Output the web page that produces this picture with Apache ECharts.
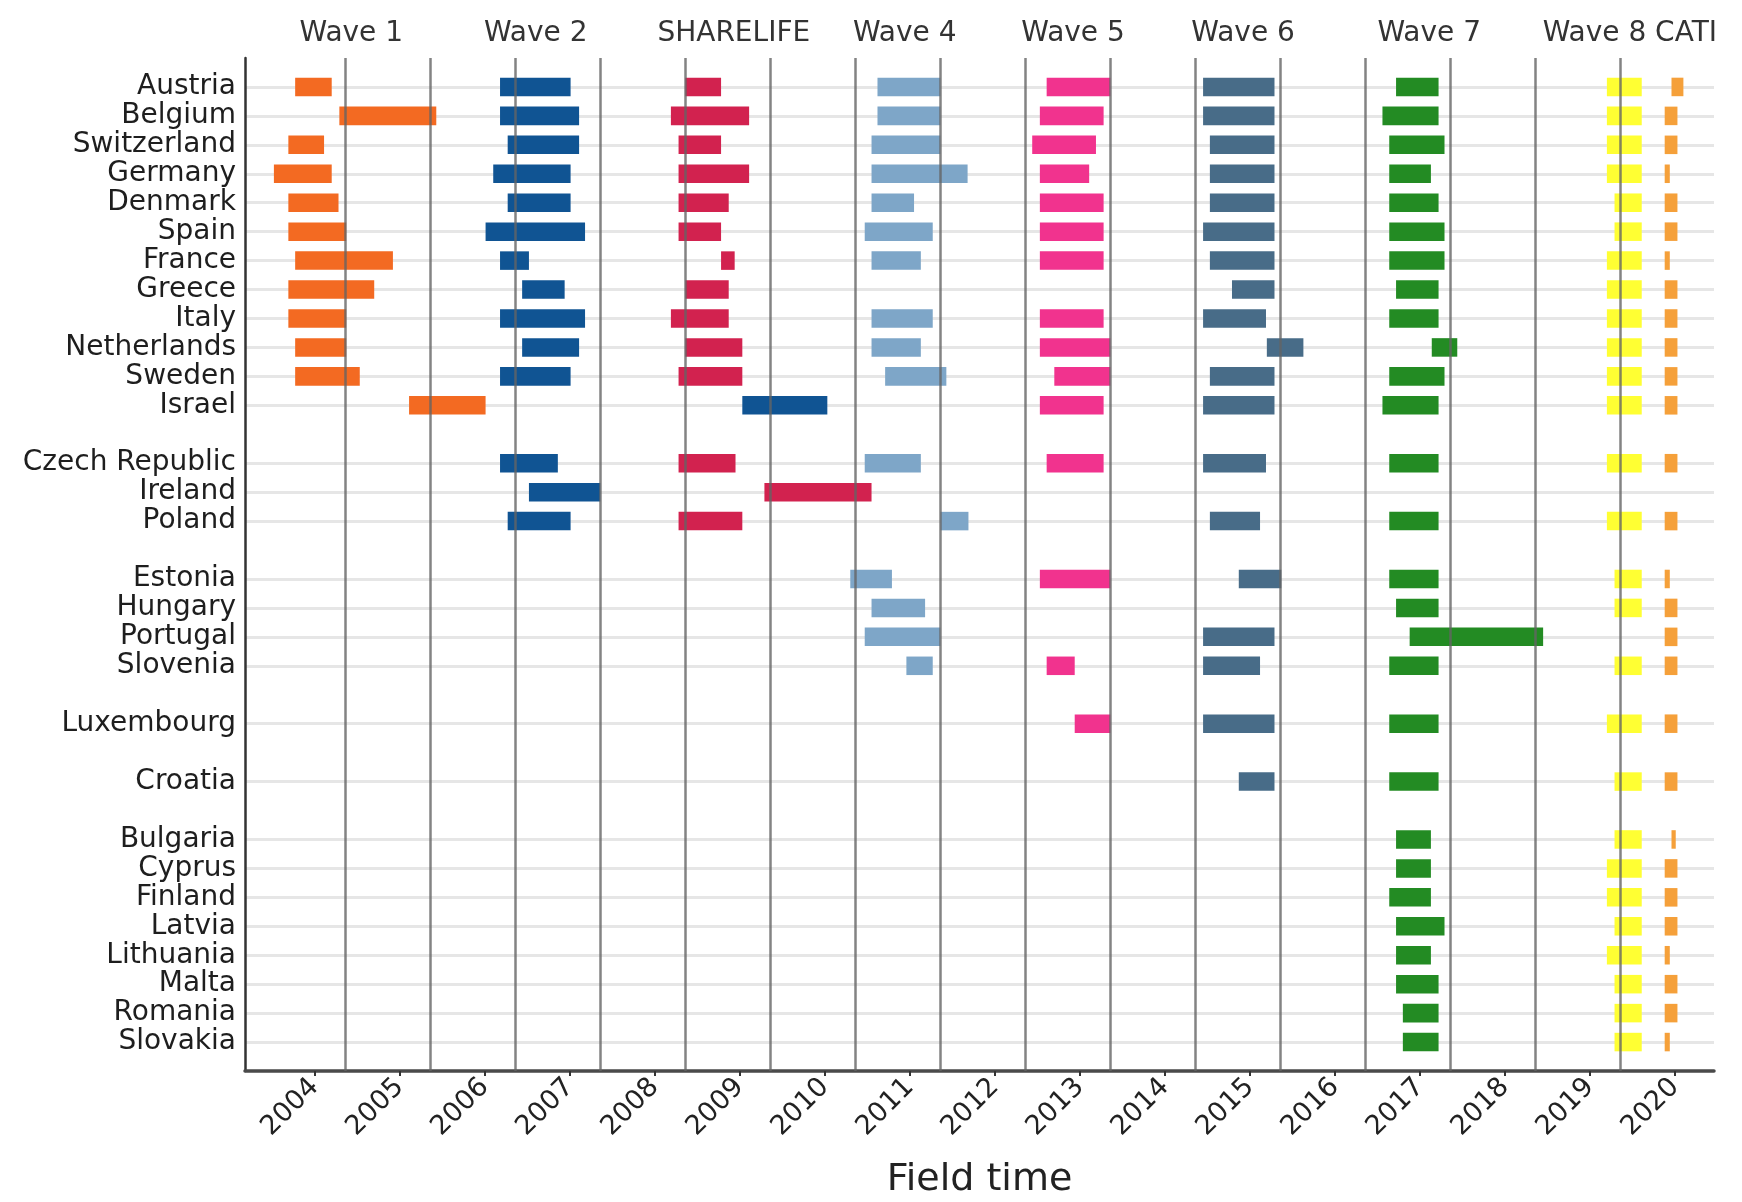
<!DOCTYPE html>
<html>
<head>
<meta charset="utf-8">
<script src="https://cdn.jsdelivr.net/npm/echarts@6/dist/echarts.min.js"></script>
<style>
  html, body { margin: 0; padding: 0; background: #fff; }
  #chart { width: 1742px; height: 1202px; }
</style>
</head>
<body>
<div id="chart"></div>
<script>
// ---- Rows (null = empty spacer row) ----
const countries = [
  null,
  'Austria', 'Belgium', 'Switzerland', 'Germany', 'Denmark', 'Spain', 'France',
  'Greece', 'Italy', 'Netherlands', 'Sweden', 'Israel',
  null,
  'Czech Republic', 'Ireland', 'Poland',
  null,
  'Estonia', 'Hungary', 'Portugal', 'Slovenia',
  null,
  'Luxembourg',
  null,
  'Croatia',
  null,
  'Bulgaria', 'Cyprus', 'Finland', 'Latvia', 'Lithuania', 'Malta', 'Romania', 'Slovakia',
  null
];

// ---- Tick labels ----
const yearLabels = [2004, 2005, 2006, 2007, 2008, 2009, 2010, 2011, 2012, 2013, 2014, 2015, 2016, 2017, 2018, 2019, 2020];
const yearLines = [2005, 2006, 2007, 2008, 2009, 2010, 2011, 2012, 2013, 2014, 2015, 2016, 2017, 2018, 2019, 2020];
const waveNames = ['Wave 1', 'Wave 2', 'SHARELIFE', 'Wave 4', 'Wave 5', 'Wave 6', 'Wave 7', 'Wave 8 CATI'];
const waveLabelPos = [2005.07, 2007.24, 2009.57, 2011.58, 2013.56, 2015.56, 2017.75, 2020.11];

// ---- Field time per wave: [country, start, end] (decimal years) ----
const wave1 = [
  ['Austria', 2004.41, 2004.84], ['Belgium', 2004.93, 2006.07], ['Switzerland', 2004.33, 2004.75],
  ['Germany', 2004.16, 2004.84], ['Denmark', 2004.33, 2004.92], ['Spain', 2004.33, 2005.01],
  ['France', 2004.41, 2005.56], ['Greece', 2004.33, 2005.34], ['Italy', 2004.33, 2005.01],
  ['Netherlands', 2004.41, 2005.01], ['Sweden', 2004.41, 2005.17], ['Israel', 2005.75, 2006.65]
];
const wave2 = [
  ['Austria', 2006.82, 2007.65], ['Belgium', 2006.82, 2007.75], ['Switzerland', 2006.91, 2007.75],
  ['Germany', 2006.74, 2007.65], ['Denmark', 2006.91, 2007.65], ['Spain', 2006.65, 2007.82],
  ['France', 2006.82, 2007.16], ['Greece', 2007.08, 2007.58], ['Italy', 2006.82, 2007.82],
  ['Netherlands', 2007.08, 2007.75], ['Sweden', 2006.82, 2007.65], ['Israel', 2009.67, 2010.67],
  ['Czech Republic', 2006.82, 2007.50], ['Ireland', 2007.16, 2008.00], ['Poland', 2006.91, 2007.65]
];
const sharelife = [
  ['Austria', 2009.00, 2009.42], ['Belgium', 2008.83, 2009.75], ['Switzerland', 2008.92, 2009.42],
  ['Germany', 2008.92, 2009.75], ['Denmark', 2008.92, 2009.51], ['Spain', 2008.92, 2009.42],
  ['France', 2009.42, 2009.58], ['Greece', 2009.00, 2009.51], ['Italy', 2008.83, 2009.51],
  ['Netherlands', 2009.00, 2009.67], ['Sweden', 2008.92, 2009.67], ['Czech Republic', 2008.92, 2009.59],
  ['Ireland', 2009.93, 2011.19], ['Poland', 2008.92, 2009.67]
];
const wave4 = [
  ['Austria', 2011.26, 2012.00], ['Belgium', 2011.26, 2012.00], ['Switzerland', 2011.19, 2012.00],
  ['Germany', 2011.19, 2012.32], ['Denmark', 2011.19, 2011.69], ['Spain', 2011.11, 2011.91],
  ['France', 2011.19, 2011.77], ['Italy', 2011.19, 2011.91], ['Netherlands', 2011.19, 2011.77],
  ['Sweden', 2011.35, 2012.07], ['Czech Republic', 2011.11, 2011.77], ['Poland', 2012.00, 2012.33],
  ['Estonia', 2010.94, 2011.43], ['Hungary', 2011.19, 2011.82], ['Portugal', 2011.11, 2012.00],
  ['Slovenia', 2011.60, 2011.91]
];
const wave5 = [
  ['Austria', 2013.25, 2014.00], ['Belgium', 2013.17, 2013.92], ['Switzerland', 2013.08, 2013.83],
  ['Germany', 2013.17, 2013.75], ['Denmark', 2013.17, 2013.92], ['Spain', 2013.17, 2013.92],
  ['France', 2013.17, 2013.92], ['Italy', 2013.17, 2013.92], ['Netherlands', 2013.17, 2014.00],
  ['Sweden', 2013.34, 2014.00], ['Israel', 2013.17, 2013.92], ['Czech Republic', 2013.25, 2013.92],
  ['Estonia', 2013.17, 2014.00], ['Slovenia', 2013.25, 2013.58], ['Luxembourg', 2013.58, 2014.00]
];
const wave6 = [
  ['Austria', 2015.09, 2015.93], ['Belgium', 2015.09, 2015.93], ['Switzerland', 2015.17, 2015.93],
  ['Germany', 2015.17, 2015.93], ['Denmark', 2015.17, 2015.93], ['Spain', 2015.09, 2015.93],
  ['France', 2015.17, 2015.93], ['Greece', 2015.43, 2015.93], ['Italy', 2015.09, 2015.83],
  ['Netherlands', 2015.84, 2016.27], ['Sweden', 2015.17, 2015.93], ['Israel', 2015.09, 2015.93],
  ['Czech Republic', 2015.09, 2015.83], ['Poland', 2015.17, 2015.76], ['Estonia', 2015.51, 2016.01],
  ['Portugal', 2015.09, 2015.93], ['Slovenia', 2015.09, 2015.76], ['Luxembourg', 2015.09, 2015.93],
  ['Croatia', 2015.51, 2015.93]
];
const wave7 = [
  ['Austria', 2017.36, 2017.86], ['Belgium', 2017.20, 2017.86], ['Switzerland', 2017.28, 2017.93],
  ['Germany', 2017.28, 2017.77], ['Denmark', 2017.28, 2017.86], ['Spain', 2017.28, 2017.93],
  ['France', 2017.28, 2017.93], ['Greece', 2017.36, 2017.86], ['Italy', 2017.28, 2017.86],
  ['Netherlands', 2017.78, 2018.08], ['Sweden', 2017.28, 2017.93], ['Israel', 2017.20, 2017.86],
  ['Czech Republic', 2017.28, 2017.86], ['Poland', 2017.28, 2017.86], ['Estonia', 2017.28, 2017.86],
  ['Hungary', 2017.36, 2017.86], ['Portugal', 2017.52, 2019.09], ['Slovenia', 2017.28, 2017.86],
  ['Luxembourg', 2017.28, 2017.86], ['Croatia', 2017.28, 2017.86], ['Bulgaria', 2017.36, 2017.77],
  ['Cyprus', 2017.36, 2017.77], ['Finland', 2017.28, 2017.77], ['Latvia', 2017.36, 2017.93],
  ['Lithuania', 2017.36, 2017.77], ['Malta', 2017.36, 2017.86], ['Romania', 2017.44, 2017.86],
  ['Slovakia', 2017.44, 2017.86]
];
const wave8 = [
  ['Austria', 2019.84, 2020.25], ['Belgium', 2019.84, 2020.25], ['Switzerland', 2019.84, 2020.25],
  ['Germany', 2019.84, 2020.25], ['Denmark', 2019.93, 2020.25], ['Spain', 2019.93, 2020.25],
  ['France', 2019.84, 2020.25], ['Greece', 2019.84, 2020.25], ['Italy', 2019.84, 2020.25],
  ['Netherlands', 2019.84, 2020.25], ['Sweden', 2019.84, 2020.25], ['Israel', 2019.84, 2020.25],
  ['Czech Republic', 2019.84, 2020.25], ['Poland', 2019.84, 2020.25], ['Estonia', 2019.93, 2020.25],
  ['Hungary', 2019.93, 2020.25], ['Slovenia', 2019.93, 2020.25], ['Luxembourg', 2019.84, 2020.25],
  ['Croatia', 2019.93, 2020.25], ['Bulgaria', 2019.93, 2020.25], ['Cyprus', 2019.84, 2020.25],
  ['Finland', 2019.84, 2020.25], ['Latvia', 2019.93, 2020.25], ['Lithuania', 2019.84, 2020.25],
  ['Malta', 2019.93, 2020.25], ['Romania', 2019.93, 2020.25], ['Slovakia', 2019.93, 2020.25]
];
const wave8cati = [
  ['Austria', 2020.60, 2020.74], ['Belgium', 2020.52, 2020.67], ['Switzerland', 2020.52, 2020.67],
  ['Germany', 2020.52, 2020.58], ['Denmark', 2020.52, 2020.67], ['Spain', 2020.52, 2020.67],
  ['France', 2020.52, 2020.58], ['Greece', 2020.52, 2020.67], ['Italy', 2020.52, 2020.67],
  ['Netherlands', 2020.52, 2020.67], ['Sweden', 2020.52, 2020.67], ['Israel', 2020.52, 2020.67],
  ['Czech Republic', 2020.52, 2020.67], ['Poland', 2020.52, 2020.67], ['Estonia', 2020.52, 2020.58],
  ['Hungary', 2020.52, 2020.67], ['Portugal', 2020.52, 2020.67], ['Slovenia', 2020.52, 2020.67],
  ['Luxembourg', 2020.52, 2020.67], ['Croatia', 2020.52, 2020.67], ['Bulgaria', 2020.60, 2020.65],
  ['Cyprus', 2020.52, 2020.67], ['Finland', 2020.52, 2020.67], ['Latvia', 2020.52, 2020.67],
  ['Lithuania', 2020.52, 2020.58], ['Malta', 2020.52, 2020.67], ['Romania', 2020.52, 2020.67],
  ['Slovakia', 2020.52, 2020.58]
];

const waves = [
  { name: 'Wave 1', data: wave1, color: '#F36A22' },
  { name: 'Wave 2', data: wave2, color: '#105493' },
  { name: 'SHARELIFE', data: sharelife, color: '#D2224F' },
  { name: 'Wave 4', data: wave4, color: '#7EA6C8' },
  { name: 'Wave 5', data: wave5, color: '#F1338E' },
  { name: 'Wave 6', data: wave6, color: '#486C88' },
  { name: 'Wave 7', data: wave7, color: '#238B23' },
  { name: 'Wave 8', data: wave8, color: '#FFFF33' },
  { name: 'Wave 8 CATI', data: wave8cati, color: '#F5A03A' }
];

const XMIN = 2003.82, XMAX = 2021.1;
const LABEL_SHIFT = 0.64;
const FONT = 'DejaVu Sans';

const axisNames = countries.map((c, i) => c === null ? '_gap' + i : c);
const rowIndex = name => axisNames.indexOf(name);

function renderBar(params, api) {
  const y = api.value(0);
  const s = api.coord([api.value(1), y]);
  const e = api.coord([api.value(2), y]);
  const h = api.size([0, 1])[1] * 0.64;
  return {
    type: 'rect',
    shape: { x: s[0], y: s[1] - h / 2, width: e[0] - s[0], height: h },
    style: { fill: api.visual('color') }
  };
}

const series = waves.map(w => ({
  type: 'custom',
  name: w.name,
  renderItem: renderBar,
  itemStyle: { color: w.color },
  encode: { x: [1, 2], y: 0 },
  data: w.data.map(([c, s, e]) => [rowIndex(c), s, e]),
  z: 3
}));

series.push({
  type: 'line',
  name: 'yearLines',
  data: [],
  z: 10,
  silent: true,
  markLine: {
    silent: true,
    symbol: ['none', 'none'],
    label: { show: false },
    animation: false,
    lineStyle: { color: 'rgba(100,100,100,0.8)', width: 2.5, type: 'solid' },
    data: yearLines.map(y => ({ xAxis: y }))
  }
});

const chart = echarts.init(document.getElementById('chart'), null, { renderer: 'canvas' });
chart.setOption({
  animation: false,
  backgroundColor: '#ffffff',
  textStyle: { fontFamily: FONT },
  grid: { left: 245, right: 28, top: 58, bottom: 131, containLabel: false, outerBoundsMode: 'none' },
  xAxis: [
    {
      type: 'value',
      min: XMIN,
      max: XMAX,
      position: 'bottom',
      name: 'Field time',
      nameLocation: 'middle',
      nameGap: 90,
      nameTextStyle: { fontFamily: FONT, fontSize: 38, color: '#222' },
      axisLine: { show: true, lineStyle: { color: '#4a4a4a', width: 3.5 } },
      axisTick: {
        show: true, length: 5, lineStyle: { color: '#333', width: 2 },
        customValues: yearLabels.map(y => y + LABEL_SHIFT)
      },
      axisLabel: {
        rotate: 45,
        margin: 12,
        fontFamily: FONT,
        fontSize: 27,
        color: '#222',
        customValues: yearLabels.map(y => y + LABEL_SHIFT),
        formatter: v => String(Math.round(v - LABEL_SHIFT))
      },
      splitLine: { show: false }
    },
    {
      type: 'value',
      min: XMIN,
      max: XMAX,
      position: 'top',
      axisLine: { show: false },
      axisTick: { show: false },
      splitLine: { show: false },
      axisLabel: {
        margin: 10,
        fontFamily: FONT,
        fontSize: 28,
        color: '#333',
        customValues: waveLabelPos,
        formatter: v => {
          const i = waveLabelPos.findIndex(p => Math.abs(p - v) < 1e-6);
          return i >= 0 ? waveNames[i] : '';
        }
      }
    }
  ],
  yAxis: {
    type: 'category',
    data: axisNames,
    inverse: true,
    boundaryGap: false,
    axisLine: { show: true, lineStyle: { color: '#333', width: 2.5 } },
    axisTick: { show: false },
    axisLabel: {
      interval: 0,
      margin: 9,
      fontFamily: FONT,
      fontSize: 28,
      color: '#1e1e1e',
      formatter: v => v.startsWith('_gap') ? '' : v
    },
    splitLine: {
      show: true,
      interval: (i, v) => !String(v).startsWith('_gap'),
      lineStyle: { color: '#e6e6e6', width: 3 }
    }
  },
  series: series
});
</script>
</body>
</html>
